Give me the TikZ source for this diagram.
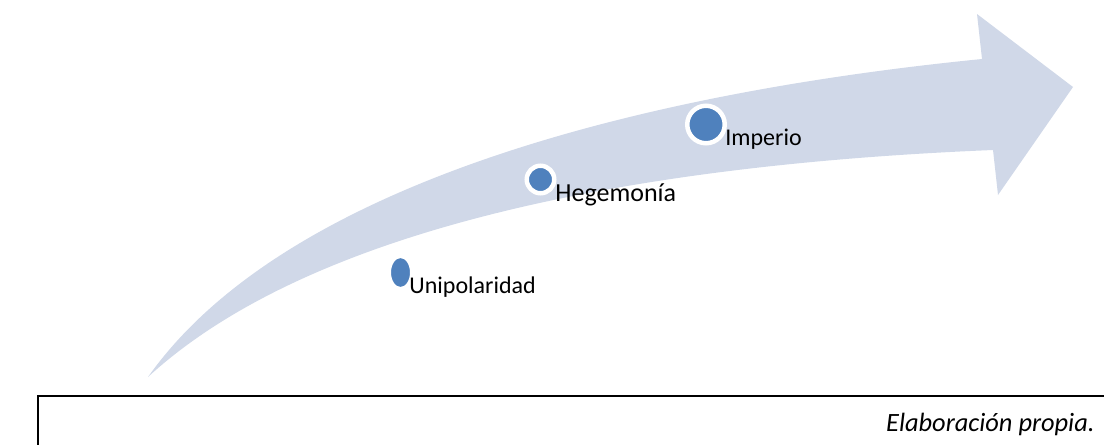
\documentclass[tikz,border=0pt]{standalone}
\usepackage{fontspec}
\setmainfont{Carlito}
\usetikzlibrary{shapes.geometric}

\definecolor{bandblue}{RGB}{208,216,232}
\definecolor{dotblue}{RGB}{79,129,189}

\begin{document}
\begin{tikzpicture}[
	x=0.5pt, y=-0.5pt,
	band/.style={fill=bandblue},
	dot/.style={circle, fill=dotblue, draw=white, line width=2.25pt, inner sep=0pt},
	stage/.style={anchor=base west, inner sep=0pt, font=\fontsize{12}{14}\selectfont},
	source/.style={anchor=base east, inner sep=0pt, font=\fontsize{13.2}{15}\selectfont\itshape},
	frame/.style={draw=black, line width=0.8pt},
	]

	\useasboundingbox (0,0) rectangle (1104,445);

	% curved arrow
	\fill[band] (148,377) .. controls (280,190) and (620,95) .. (982,59)
		-- (977,14) -- (1073,87) -- (998,195) -- (993,150)
		.. controls (700,162) and (330,210) .. (148,377)
		-- cycle;

	% stages
	\node [dot, ellipse, minimum width=11.75pt, minimum height=16.75pt] (uni-dot) at (400.5,272.5) {};
	\node [dot, minimum size=13.75pt] (heg-dot) at (540.5,179.5) {};
	\node [dot, minimum size=18.75pt] (imp-dot) at (706,124.5) {};

	\node [stage] (unipolaridad) at (409,293) {Unipolaridad};
	\node [stage, font=\fontsize{13}{15}\selectfont] (hegemonia) at (555,201) {Hegemonía};
	\node [stage] (imperio)      at (725,145) {Imperio};

	% source box
	\draw [frame] (1104,396) -- (38,396) -- (38,445);
	\node [source] (fuente) at (1095,431) {Elaboración propia.};

\end{tikzpicture}
\end{document}
